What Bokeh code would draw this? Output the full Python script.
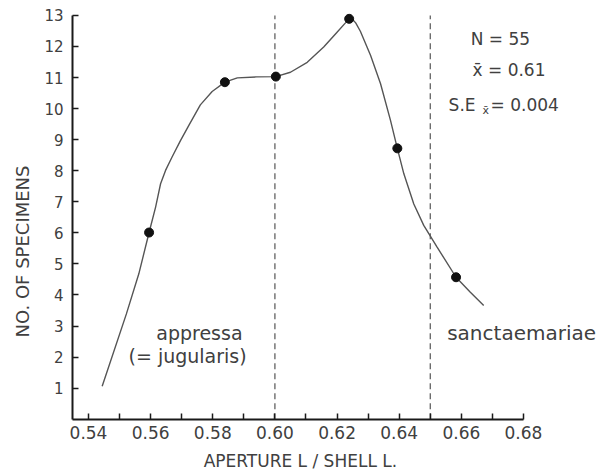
import math
from bokeh.plotting import figure
from bokeh.models import FixedTicker, Label, Range1d, LinearAxis
from bokeh.embed import file_html
from bokeh.resources import INLINE

# ---- data ----
point_x = [0.5595, 0.5839, 0.6003, 0.6239, 0.6394, 0.6583]
point_y = [6.01, 10.85, 11.03, 12.89, 8.72, 4.57]

curve_x = [0.5444, 0.5522, 0.5562, 0.5595, 0.5616, 0.5632, 0.5648, 0.5669,
           0.5696, 0.5723, 0.5760, 0.5798, 0.5839, 0.5879, 0.5941, 0.6003,
           0.6050, 0.6104, 0.6157, 0.6200, 0.6227, 0.6234, 0.6242, 0.6250,
           0.6260, 0.6275, 0.6308, 0.6340, 0.6372, 0.6394, 0.6415, 0.6447,
           0.6479, 0.6522, 0.6583, 0.6629, 0.6672]
curve_y = [1.06, 3.39, 4.68, 6.01, 6.83, 7.58, 8.01, 8.44,
           8.97, 9.46, 10.12, 10.55, 10.85, 10.99, 11.02, 11.03,
           11.17, 11.49, 11.98, 12.46, 12.76, 12.85, 12.89, 12.87,
           12.76, 12.49, 11.71, 10.80, 9.62, 8.72, 7.90, 6.93,
           6.24, 5.54, 4.57, 4.09, 3.66]

divider_x = [0.60, 0.65]

x_major_ticks = [0.54, 0.56, 0.58, 0.60, 0.62, 0.64, 0.66, 0.68]
x_minor_ticks = [0.55, 0.57, 0.59, 0.61, 0.63, 0.65, 0.67]
x_tick_labels = {0.54: "0.54", 0.56: "0.56", 0.58: "0.58", 0.60: "0.60",
                 0.62: "0.62", 0.64: "0.64", 0.66: "0.66", 0.68: "0.68"}
y_ticks = list(range(1, 14))

X0, X1 = 0.53485, 0.68
Y0, Y1 = 0, 13

FONT = "DejaVu Sans"
TXT = "#404040"

p = figure(width=600, height=471, output_backend="svg", toolbar_location=None,
           x_range=Range1d(0.51168, 0.70479), y_range=Range1d(-1.684, 13.48),
           x_axis_location=None, y_axis_location=None,
           min_border=0)
p.background_fill_color = "white"
p.border_fill_color = "white"
p.outline_line_color = None
p.grid.visible = False

# axes
xa = LinearAxis(fixed_location=Y0, bounds=(X0, X1))
xa.ticker = FixedTicker(ticks=x_major_ticks, minor_ticks=x_minor_ticks)
xa.major_label_overrides = x_tick_labels
xa.major_tick_in = 6
xa.major_tick_out = 0
xa.minor_tick_in = 6
xa.minor_tick_out = 0
xa.axis_line_width = 2
xa.axis_line_color = "#1a1a1a"
xa.major_tick_line_width = 1.5
xa.minor_tick_line_width = 1.5
xa.major_tick_line_color = "#1a1a1a"
xa.minor_tick_line_color = "#1a1a1a"
xa.major_label_standoff = 7
xa.major_label_text_font = FONT
xa.major_label_text_font_size = "17px"
xa.major_label_text_color = TXT
p.add_layout(xa, "below")

ya = LinearAxis(fixed_location=X0, bounds=(Y0, Y1))
ya.ticker = FixedTicker(ticks=y_ticks)
ya.minor_tick_line_color = None
ya.major_tick_in = 6
ya.major_tick_out = 0
ya.axis_line_width = 2
ya.axis_line_color = "#1a1a1a"
ya.major_tick_line_width = 1.5
ya.major_tick_line_color = "#1a1a1a"
ya.major_label_standoff = 9
ya.major_label_text_font = FONT
ya.major_label_text_font_size = "15px"
ya.major_label_text_color = TXT
p.add_layout(ya, "left")

# dashed dividers
for dx in divider_x:
    p.segment(x0=[dx], y0=[Y0], x1=[dx], y1=[Y1], line_color="#555555",
              line_width=1.2, line_dash="6 4")

# curve and points
p.line(curve_x, curve_y, line_color="#555555", line_width=1.4)
p.scatter(point_x, point_y, size=9, color="#111111")

def lab(x, y, text, size="17px", align="left", angle=0.0):
    p.add_layout(Label(x=x, y=y, text=text, text_font=FONT, text_font_size=size,
                       text_color=TXT, text_align=align, text_baseline="middle",
                       angle=angle))

# axis titles
lab(0.6082, -1.33, "APERTURE L / SHELL L.", size="17px", align="center")
lab(0.51876, 5.40, "NO. OF SPECIMENS", size="18px", align="center", angle=math.pi / 2)

# statistics
lab(0.6630, 12.25, "N = 55")
lab(0.6636, 11.23, "x\u0304 = 0.61")
lab(0.6559, 10.13, "S.E")
lab(0.6668, 9.94, "x\u0304", size="11px")
lab(0.6694, 10.13, "= 0.004")

# group names
lab(0.5757, 2.79, "appressa", size="19px", align="center")
lab(0.5719, 2.05, "(= jugularis)", size="19px", align="center")
lab(0.6794, 2.76, "sanctaemariae", size="20px", align="center")

open("out.html", "w").write(file_html(p, INLINE))
